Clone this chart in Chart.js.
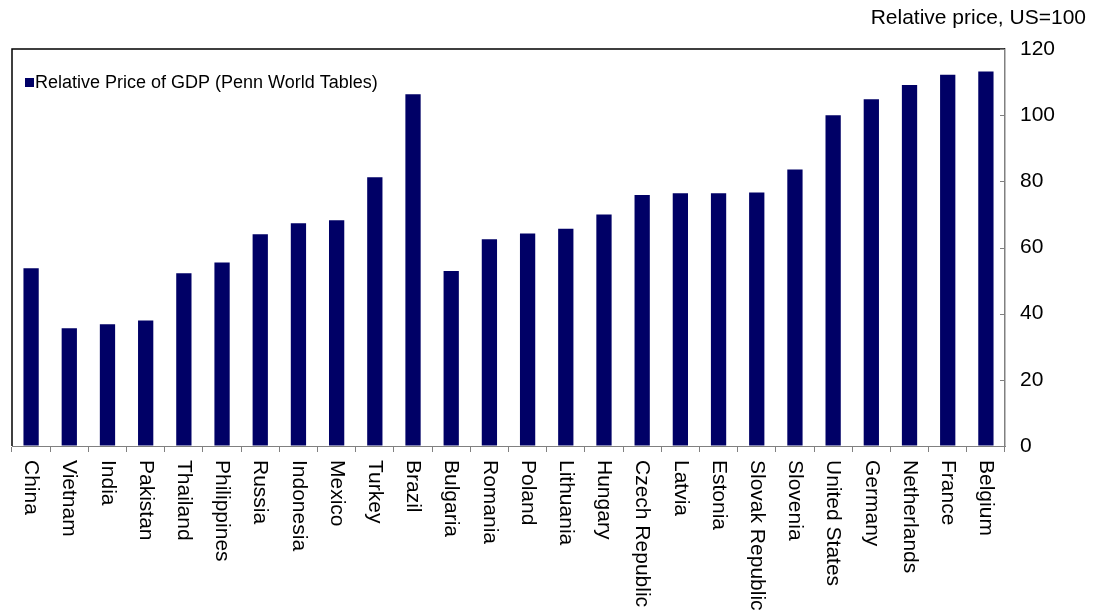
<!DOCTYPE html>
<html>
<head>
<meta charset="utf-8">
<script src="https://cdn.jsdelivr.net/npm/chart.js@4.4.1/dist/chart.umd.min.js"></script>
<style>
  html, body { margin: 0; padding: 0; background: #fff; }
  #chart { display: block; }
</style>
</head>
<body>
<canvas id="chart" width="1096" height="615"></canvas>
<script>
// Dados
const paises = ['China', 'Vietnam', 'India', 'Pakistan', 'Thailand', 'Philippines', 'Russia',
  'Indonesia', 'Mexico', 'Turkey', 'Brazil', 'Bulgaria', 'Romania', 'Poland', 'Lithuania',
  'Hungary', 'Czech Republic', 'Latvia', 'Estonia', 'Slovak Republic', 'Slovenia',
  'United States', 'Germany', 'Netherlands', 'France', 'Belgium'];
const precoRelativo = [53.7, 35.6, 36.8, 37.9, 52.2, 55.5, 64.0, 67.3, 68.2, 81.2, 106.3,
  52.9, 62.5, 64.2, 65.7, 70.0, 75.9, 76.4, 76.4, 76.6, 83.6, 100.0, 104.8, 109.1, 112.2, 113.2];
const nomeSerie = 'Relative Price of GDP (Penn World Tables)';
const tituloEixo = 'Relative price, US=100';
const yMin = 0;
const yMax = 120;
const yPasso = 20;

const FONTE = "'Liberation Sans', Arial, sans-serif";
const COR_BARRA = '#000066';
const COR_EIXO = '#808080';

// Desenho extra: bordas, rótulos girados, legenda, título do eixo
const extras = {
  id: 'extras',
  afterDraw(chart) {
    const { ctx, chartArea, scales } = chart;
    const { left, right, top, bottom } = chartArea;
    ctx.save();

    // borda preta em cima e à esquerda
    ctx.strokeStyle = '#000';
    ctx.lineWidth = 1.5;
    ctx.beginPath();
    ctx.moveTo(left, bottom);
    ctx.lineTo(left, top);
    ctx.lineTo(right, top);
    ctx.stroke();

    // marcas do eixo y para dentro
    ctx.strokeStyle = COR_EIXO;
    ctx.lineWidth = 1;
    scales.y.ticks.forEach(t => {
      const y = Math.round(scales.y.getPixelForValue(t.value)) + 0.5;
      ctx.beginPath();
      ctx.moveTo(right - 5, y);
      ctx.lineTo(right, y);
      ctx.stroke();
    });

    // rótulos das categorias, girados no sentido horário
    ctx.fillStyle = '#000';
    ctx.font = `21px ${FONTE}`;
    ctx.textAlign = 'left';
    ctx.textBaseline = 'middle';
    paises.forEach((p, i) => {
      const x = scales.x.getPixelForValue(i);
      ctx.save();
      ctx.translate(x, bottom + 14);
      ctx.rotate(Math.PI / 2);
      ctx.fillText(p, 0, 0);
      ctx.restore();
    });

    // legenda
    ctx.fillStyle = COR_BARRA;
    ctx.fillRect(left + 13, 78, 9, 9);
    ctx.fillStyle = '#000';
    ctx.font = `18px ${FONTE}`;
    ctx.textBaseline = 'middle';
    ctx.fillText(nomeSerie, left + 23, 83);

    // título do eixo
    ctx.font = `21px ${FONTE}`;
    ctx.textAlign = 'right';
    ctx.fillText(tituloEixo, 1086, 18);

    ctx.restore();
  }
};

const ctx = document.getElementById('chart').getContext('2d');
new Chart(ctx, {
  type: 'bar',
  data: {
    labels: paises,
    datasets: [{
      label: nomeSerie,
      data: precoRelativo,
      backgroundColor: COR_BARRA,
      borderWidth: 0,
      categoryPercentage: 1,
      barPercentage: 0.4
    }]
  },
  options: {
    responsive: false,
    animation: false,
    layout: { padding: { top: 49, left: 12, right: 0, bottom: 0 } },
    plugins: {
      legend: { display: false },
      tooltip: { enabled: false }
    },
    scales: {
      x: {
        grid: {
          offset: true,
          drawOnChartArea: false,
          drawTicks: true,
          tickLength: 6,
          color: COR_EIXO
        },
        border: { color: COR_EIXO, width: 1 },
        ticks: { display: false },
        afterFit: s => { s.height = 169; }
      },
      y: {
        position: 'right',
        min: yMin,
        max: yMax,
        grid: { drawOnChartArea: false, drawTicks: false },
        border: { color: COR_EIXO, width: 1.5 },
        ticks: {
          stepSize: yPasso,
          padding: 15,
          color: '#000',
          font: { family: FONTE, size: 21 }
        },
        afterFit: s => { s.width = 91; }
      }
    }
  },
  plugins: [extras]
});
</script>
</body>
</html>
